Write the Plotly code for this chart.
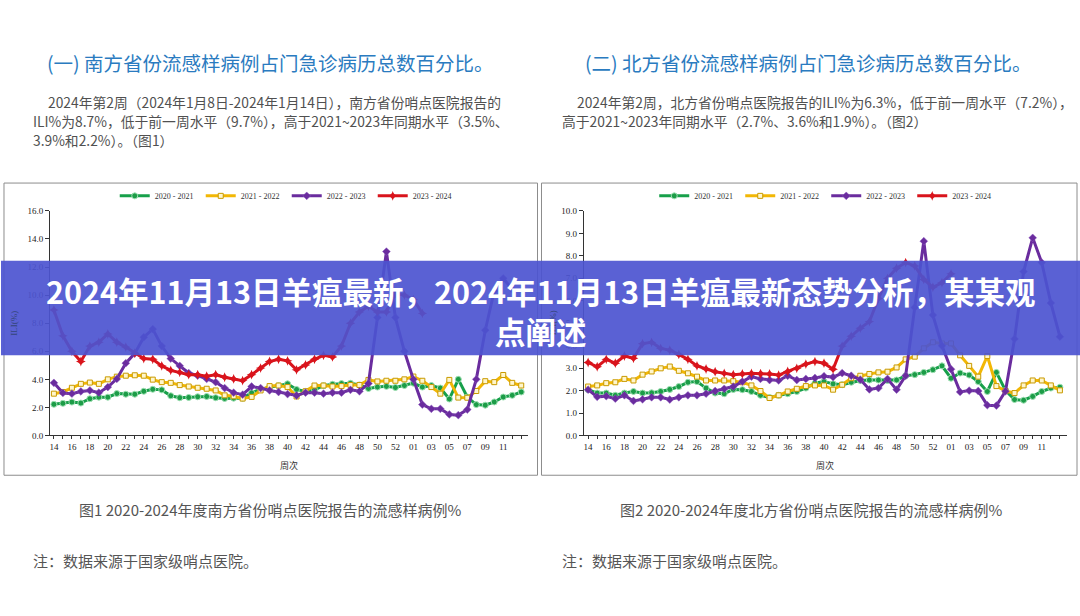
import plotly.graph_objects as go

W, H = 1080, 616

# ---------------- data ----------------
weeks = ["14", "15", "16", "17", "18", "19", "20", "21", "22", "23", "24", "25", "26",
         "27", "28", "29", "30", "31", "32", "33", "34", "35", "36", "37", "38", "39",
         "40", "41", "42", "43", "44", "45", "46", "47", "48", "49", "50", "51", "52",
         "53", "01", "02", "03", "04", "05", "06", "07", "08", "09", "10", "11", "12", "13"]
tick_labels = ["14", "16", "18", "20", "22", "24", "26", "28", "30", "32", "34", "36", "38",
               "40", "42", "44", "46", "48", "50", "52", "01", "03", "05", "07", "09", "11"]
seasons = ["2020 - 2021", "2021 - 2022", "2022 - 2023", "2023 - 2024"]

# South (Fig.1)
south_2020 = [2.22, 2.29, 2.38, 2.31, 2.62, 2.73, 2.73, 2.99, 2.94, 2.94, 3.15, 3.29, 3.25,
              2.83, 2.69, 2.71, 2.76, 2.78, 2.69, 2.64, 2.66, 2.66, 3.04, 3.30, 3.43, 3.55,
              3.68, 3.28, 3.14, 3.26, 3.55, 3.65, 3.70, 3.72, 3.60, 3.35, 3.45, 3.50, 3.42,
              3.56, 3.73, 3.45, 3.56, 3.38, 2.60, 4.00, 2.74, 2.20, 2.16, 2.39, 2.74, 2.86, 3.10]
south_2021 = [2.98, 3.10, 3.40, 3.68, 3.77, 3.68, 4.00, 4.19, 4.26, 4.29, 4.26, 3.98, 3.80,
              3.75, 3.59, 3.49, 3.40, 3.33, 3.21, 2.86, 2.79, 2.63, 2.75, 3.21, 3.52, 3.56,
              3.45, 2.78, 3.15, 3.56, 3.56, 3.49, 3.52, 3.60, 3.60, 3.96, 3.85, 3.90, 3.90,
              4.00, 4.20, 3.90, 3.45, 2.98, 3.96, 2.70, 2.69, 3.17, 3.87, 3.80, 4.31, 3.75, 3.56]
south_2022 = [3.75, 3.03, 2.98, 3.14, 3.21, 3.05, 3.45, 4.03, 5.15, 5.85, 7.00, 7.58, 6.37,
              5.48, 4.96, 4.45, 4.26, 4.03, 3.80, 3.38, 3.05, 2.91, 3.49, 3.38, 3.21, 3.10,
              2.95, 2.85, 3.05, 3.05, 2.98, 3.05, 3.05, 3.25, 3.15, 3.70, 8.40, 13.10, 8.40,
              6.00, 4.00, 2.20, 1.90, 1.90, 1.50, 1.45, 1.85, 4.00, 7.50, 10.30, 11.20, 10.40]
south_2023 = [8.94, 7.10, 6.00, 5.27, 6.37, 6.65, 7.23, 6.65, 6.30, 5.86, 5.48, 5.43, 4.96,
              4.64, 4.50, 4.33, 4.33, 4.22, 4.33, 4.15, 4.03, 3.91, 4.33, 4.80, 5.27, 5.43,
              5.32, 4.68, 5.03, 5.43, 5.71, 5.60, 6.37, 8.00, 8.80, 9.20, 8.80, 8.80, 10.10,
              10.00, 9.70, 8.70]

# North (Fig.2)
north_2020 = [2.04, 1.89, 1.89, 1.79, 1.89, 1.96, 1.89, 1.90, 1.96, 2.05, 2.18, 2.37, 2.40,
              2.11, 1.89, 1.86, 2.05, 2.04, 1.96, 1.79, 1.69, 1.79, 1.86, 1.96, 2.11, 2.33,
              2.40, 2.30, 2.26, 2.37, 2.45, 2.47, 2.47, 2.45, 2.47, 2.66, 2.71, 2.81, 2.93,
              3.10, 2.55, 2.78, 2.69, 2.40, 1.96, 2.81, 2.01, 1.60, 1.57, 1.74, 1.96, 2.11, 2.15]
north_2021 = [2.18, 2.23, 2.33, 2.37, 2.52, 2.45, 2.71, 2.85, 2.99, 3.07, 2.88, 2.77, 2.62,
              2.45, 2.45, 2.45, 2.42, 2.37, 2.23, 1.98, 1.67, 1.79, 1.96, 2.08, 2.20, 2.23,
              2.23, 2.04, 2.26, 2.55, 2.66, 2.74, 2.81, 2.84, 3.03, 3.39, 3.51, 3.88, 4.15,
              4.10, 4.10, 3.57, 3.10, 2.62, 3.54, 2.20, 1.98, 1.89, 2.23, 2.45, 2.45, 2.23, 2.01]
north_2022 = [2.04, 1.72, 1.75, 1.64, 1.79, 1.54, 1.61, 1.70, 1.70, 1.60, 1.70, 1.79, 1.79,
              1.86, 1.98, 2.08, 2.18, 2.40, 2.62, 2.52, 2.47, 2.45, 2.66, 2.47, 2.52, 2.56,
              2.64, 2.60, 2.78, 2.66, 2.49, 2.05, 2.11, 2.52, 2.04, 2.66, 5.70, 8.65, 5.36,
              4.00, 2.95, 1.94, 2.00, 1.98, 1.35, 1.33, 1.97, 4.30, 7.30, 8.80, 7.70, 5.90, 4.40]
north_2023 = [3.25, 3.06, 3.39, 3.22, 3.54, 3.44, 4.09, 4.15, 3.88, 3.80, 3.61, 3.39, 3.10,
              2.96, 2.84, 2.77, 2.71, 2.74, 2.77, 2.75, 2.74, 2.69, 2.85, 2.99, 3.18, 3.29,
              3.22, 2.95, 3.98, 4.42, 4.78, 5.07, 6.10, 7.00, 7.45, 7.70, 7.55, 6.95, 6.60,
              6.80, 7.20]

south = [south_2020, south_2021, south_2022, south_2023]
north = [north_2020, north_2021, north_2022, north_2023]

# ---------------- styles ----------------
line_colors = ["#17a04a", "#f2b705", "#6a2c9e", "#d9141c"]
markers = [
    dict(symbol="circle", size=6, color="#1c9c47", line=dict(color="#9fe0b4", width=1)),
    dict(symbol="square", size=5, color="#fff6cc", line=dict(color="#c99a00", width=1)),
    dict(symbol="diamond", size=6, color="#6a2c9e", line=dict(color="#8e5cc0", width=0.5)),
    dict(symbol="star-diamond", size=7, color="#d9141c", line=dict(width=0)),
]

CJK = "Noto Sans CJK SC"
SERIF = "Liberation Serif"


def px_x(p):
    return p / W


def px_y(p):
    return (H - p) / H


fig = go.Figure()

for series_set, xa, ya, lg in [(south, "x", "y", "legend"), (north, "x2", "y2", "legend2")]:
    for k, vals in enumerate(series_set):
        fig.add_trace(go.Scatter(
            x=weeks[:len(vals)], y=vals, name=seasons[k], mode="lines+markers",
            line=dict(color=line_colors[k], width=3),
            marker=markers[k], xaxis=xa, yaxis=ya, legend=lg,
            hoverinfo="skip",
        ))

# plot areas (pixels)
L_x0, L_x1 = 49, 527
R_x0, R_x1 = 583.3, 1066.7
Y_top, Y_bot = 209.3, 437.6

axis_common = dict(
    showgrid=False, zeroline=False, showline=True, linecolor="#333", linewidth=1,
    ticks="outside", tickcolor="#333", tickfont=dict(family=SERIF, size=9, color="#222"),
)

xcommon = dict(axis_common, type="category", categoryorder="array", categoryarray=weeks,
               tickmode="array", tickvals=tick_labels, ticktext=tick_labels, ticklen=3,
               minor=dict(ticks="outside", ticklen=3, tickcolor="#333", dtick=1, showgrid=False))

legend_common = dict(orientation="h", yanchor="middle", y=px_y(194), xanchor="center",
                     font=dict(family=SERIF, size=8, color="#333"), bgcolor="rgba(0,0,0,0)",
                     itemwidth=30, entrywidth=41, tracegroupgap=0)

fig.update_layout(
    width=W, height=H, margin=dict(l=0, r=0, t=0, b=0),
    paper_bgcolor="white", plot_bgcolor="white",
    xaxis=dict(xcommon, domain=[px_x(L_x0), px_x(L_x1)], range=[-0.44, 52.7], anchor="y"),
    yaxis=dict(axis_common, domain=[px_y(Y_bot), px_y(Y_top)], range=[0, 16], dtick=2,
               tickformat=".1f", ticklen=4, anchor="x"),
    xaxis2=dict(xcommon, domain=[px_x(R_x0), px_x(R_x1)], range=[-0.48, 52.75], anchor="y2"),
    yaxis2=dict(axis_common, domain=[px_y(Y_bot), px_y(Y_top)], range=[0, 10], dtick=1,
                tickformat=".1f", ticklen=4, anchor="x2"),
    legend=dict(legend_common, x=px_x(286)),
    legend2=dict(legend_common, x=px_x(826)),
    showlegend=True,
)

shapes = [
    dict(type="rect", xref="paper", yref="paper", x0=px_x(3), x1=px_x(537), y0=px_y(478), y1=px_y(181),
         line=dict(color="#8c8c8c", width=1), fillcolor="rgba(0,0,0,0)", layer="below"),
    dict(type="rect", xref="paper", yref="paper", x0=px_x(541), x1=px_x(1077), y0=px_y(478), y1=px_y(181),
         line=dict(color="#8c8c8c", width=1), fillcolor="rgba(0,0,0,0)", layer="below"),
    # banner
    dict(type="rect", xref="paper", yref="paper", x0=0, x1=1, y0=px_y(356), y1=px_y(260),
         line=dict(width=0), fillcolor="rgba(76,84,208,0.92)", layer="above"),
]
fig.update_layout(shapes=shapes)

ann = []


def text(x, y, s, size, color, family=CJK, xanchor="left", bold=False, angle=0):
    ann.append(dict(xref="paper", yref="paper", x=px_x(x), y=px_y(y), text=("<b>%s</b>" % s) if bold else s,
                    showarrow=False, xanchor=xanchor, yanchor="middle", textangle=angle,
                    font=dict(family=family, size=size, color=color), align="center"))


# section titles
text(270, 58, "(一) 南方省份流感样病例占门急诊病历总数百分比。", 19.5, "#2a7bc0", xanchor="center")
text(808, 58, "(二) 北方省份流感样病例占门急诊病历总数百分比。", 19.5, "#2a7bc0", xanchor="center")

# paragraphs
pc = "#505050"
ps = 13.8
text(45, 99, "2024年第2周（2024年1月8日-2024年1月14日），南方省份哨点医院报告的", ps, pc)
text(30, 118, "ILI%为8.7%，低于前一周水平（9.7%），高于2021~2023年同期水平（3.5%、", ps, pc)
text(30, 137, "3.9%和2.2%）。（图1）", ps, pc)
text(575, 99, "2024年第2周，北方省份哨点医院报告的ILI%为6.3%，低于前一周水平（7.2%），", ps, pc)
text(560, 118, "高于2021~2023年同期水平（2.7%、3.6%和1.9%）。（图2）", ps, pc)

# axis titles
text(13, 323, "ILI(%)", 9, "#34457a", family=SERIF, xanchor="center", angle=-90)
text(552, 323, "ILI(%)", 9, "#34457a", family=SERIF, xanchor="center", angle=-90)
text(288, 468, "周次", 9, "#333", xanchor="center")
text(825, 468, "周次", 9, "#333", xanchor="center")

# captions
text(269, 513, "图1 2020-2024年度南方省份哨点医院报告的流感样病例%", 15, "#555", xanchor="center")
text(811, 513, "图2 2020-2024年度北方省份哨点医院报告的流感样病例%", 15, "#555", xanchor="center")
text(30, 565, "注：数据来源于国家级哨点医院。", 15, "#555")
text(560, 565, "注：数据来源于国家级哨点医院。", 15, "#555")

# banner title
ann.append(dict(xref="paper", yref="paper", x=0.5, y=px_y(311),
                text="<b>2024年11月13日羊瘟最新，2024年11月13日羊瘟最新态势分析，某某观<br>点阐述</b>",
                showarrow=False, xanchor="center", yanchor="middle", align="center",
                font=dict(family=CJK, size=30.5, color="white")))

fig.update_layout(annotations=ann)

fig.write_html("out.html")
